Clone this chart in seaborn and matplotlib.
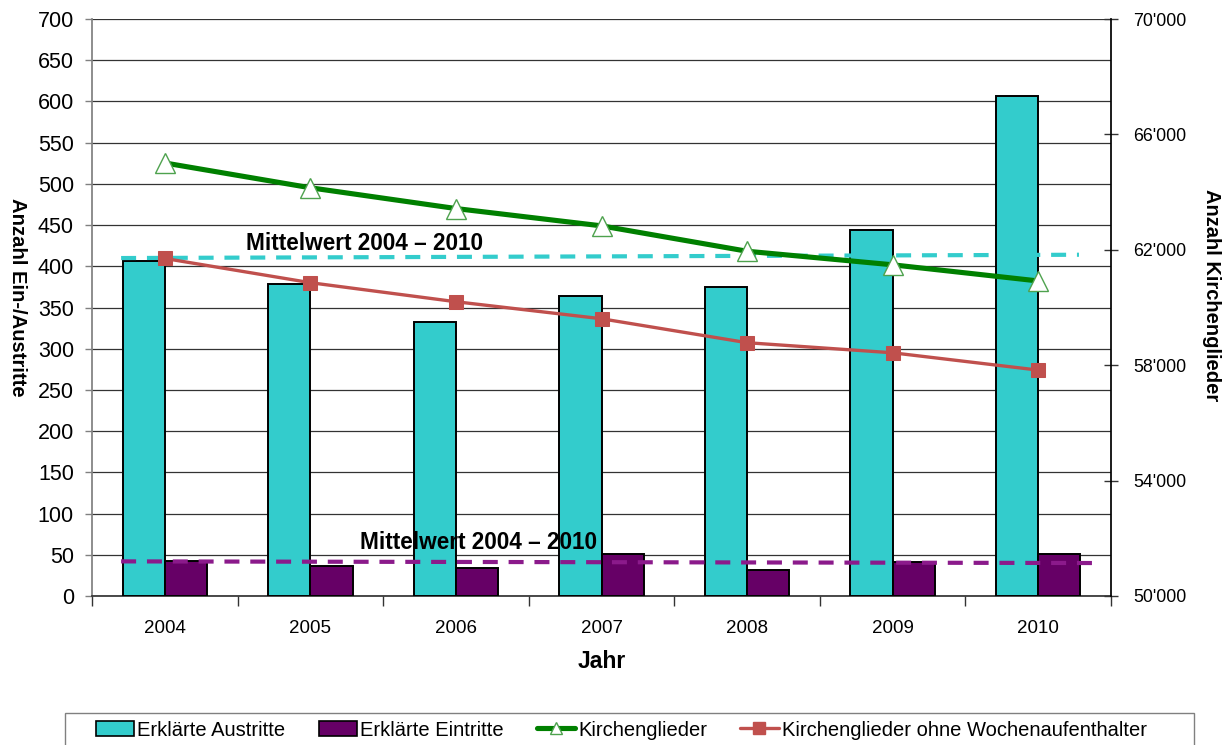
import numpy as np
import pandas as pd
import seaborn as sns
import matplotlib
matplotlib.use('Agg')
import matplotlib.pyplot as plt
from matplotlib.ticker import FuncFormatter, FixedLocator
from matplotlib.patches import Patch, Rectangle
from matplotlib.lines import Line2D

# ---------------- data ----------------
jahre = ['2004', '2005', '2006', '2007', '2008', '2009', '2010']
austritte = [407, 378, 333, 364, 375, 444, 607]
eintritte = [43, 37, 34, 51, 31, 41, 51]
kirchenglieder = [65010, 64150, 63430, 62830, 61950, 61480, 60920]
kirchenglieder_ohne = [61700, 60860, 60200, 59610, 58780, 58430, 57830]
mittel_austritte = [410, 414]     # start / end of the mean line
mittel_eintritte = [42, 40]
serien = ['Erklärte Austritte', 'Erklärte Eintritte']
linien = ['Kirchenglieder', 'Kirchenglieder ohne Wochenaufenthalter']
mittel_text = 'Mittelwert 2004 – 2010'

farben_balken = ['#33CCCC', '#660066']
farbe_gruen = '#008000'
farbe_rot = '#C0504D'
farbe_mittel_cyan = '#33CCCC'
farbe_mittel_lila = '#8B1A8B'

sns.set_theme(style='white')
plt.rcParams['font.family'] = ['Liberation Sans', 'DejaVu Sans']
plt.rcParams.update({'text.color': 'black', 'axes.labelcolor': 'black',
                     'xtick.color': 'black', 'ytick.color': 'black'})

df = pd.DataFrame({
    'Jahr': jahre * 2,
    'Anzahl': austritte + eintritte,
    'Serie': [serien[0]] * len(jahre) + [serien[1]] * len(jahre),
})

W, H = 1232, 745
fig = plt.figure(figsize=(W / 100, H / 100), dpi=100)
ax = fig.add_axes([92 / W, (H - 596) / H, (1111 - 92) / W, (596 - 19) / H])

sns.barplot(data=df, x='Jahr', y='Anzahl', hue='Serie', palette=farben_balken,
            width=0.58, gap=0, edgecolor='black', linewidth=1.4, saturation=1,
            ax=ax, legend=False, zorder=3)

n = len(jahre)
ax.set_xlim(-0.5, n - 0.5)
ax.set_ylim(0, 700)
ax.yaxis.set_major_locator(FixedLocator(np.arange(0, 701, 50)))
ax.grid(axis='y', color='#333333', linewidth=0.9, zorder=0)
ax.grid(axis='x', visible=False)
ax.set_axisbelow(True)

# mean lines
ax.plot([-0.3, n - 0.72], mittel_austritte, color=farbe_mittel_cyan, lw=3,
        ls=(0, (3.6, 2.6)), zorder=4)
ax.plot([-0.3, n - 0.62], mittel_eintritte, color=farbe_mittel_lila, lw=3,
        ls=(0, (3.6, 2.6)), zorder=4)
ax.text(0.56, 428, mittel_text, fontsize=16.3, fontweight='bold', va='center',
        ha='left', zorder=5)
ax.text(1.34, 65.5, mittel_text, fontsize=16.3, fontweight='bold', va='center',
        ha='left', zorder=5)

# x axis ticks: labels at centers, tick marks at boundaries
ax.tick_params(axis='x', which='major', length=0, pad=17, labelsize=13.5)
ax.set_xticks(np.arange(-0.5, n, 1.0), minor=True)
ax.tick_params(axis='x', which='minor', direction='out', length=7, width=1,
               color='#333333', bottom=True)
ax.tick_params(axis='y', direction='out', length=5, width=1, color='#808080',
               pad=8, labelsize=15.5, left=True, labelcolor='black')
ax.set_xlabel('Jahr', fontsize=16.5, fontweight='bold', labelpad=10)
ax.set_ylabel('Anzahl Ein-/Austritte', fontsize=14.6, fontweight='bold',
              rotation=270, va='center')
ax.yaxis.set_label_coords(-0.0736, 0.518)

for s in ['top', 'right']:
    ax.spines[s].set_visible(False)
ax.spines['left'].set_color('#808080')
ax.spines['bottom'].set_color('#333333')

# secondary axis
ax2 = ax.twinx()
pos = np.arange(n)
sns.lineplot(x=pos, y=kirchenglieder, ax=ax2, color=farbe_gruen, lw=3.7,
             marker='^', markersize=14, markerfacecolor='white',
             markeredgecolor='#4EA24E', markeredgewidth=1.0, zorder=6)
sns.lineplot(x=pos, y=kirchenglieder_ohne, ax=ax2, color=farbe_rot, lw=2.4,
             marker='s', markersize=9.5, markerfacecolor=farbe_rot,
             markeredgecolor=farbe_rot, zorder=6)
ax2.set_ylim(50000, 70000)
ax2.yaxis.set_major_locator(FixedLocator(np.arange(50000, 70001, 4000)))
ax2.yaxis.set_major_formatter(FuncFormatter(lambda v, p: f"{v:,.0f}".replace(',', "'")))
ax2.grid(False)
ax2.tick_params(axis='y', direction='inout', length=10, width=1, color='#333333',
                pad=11, labelsize=12.8, right=True)
ax2.set_ylabel('Anzahl Kirchenglieder', fontsize=14.5, fontweight='bold',
               rotation=270, va='center')
ax2.yaxis.set_label_coords(1.099, 0.522)
for s in ['top', 'left', 'bottom']:
    ax2.spines[s].set_visible(False)
ax2.spines['right'].set_color('black')
ax2.set_xlim(-0.5, n - 0.5)

# legend (frameless) + separate box
handles = [
    Patch(facecolor=farben_balken[0], edgecolor='black', linewidth=1.2),
    Patch(facecolor=farben_balken[1], edgecolor='black', linewidth=1.2),
    Line2D([], [], color=farbe_gruen, lw=3.7, marker='^', markersize=9,
           markerfacecolor='white', markeredgecolor='#4EA24E', markeredgewidth=1.0),
    Line2D([], [], color=farbe_rot, lw=2.4, marker='s', markersize=8,
           markerfacecolor=farbe_rot, markeredgecolor=farbe_rot),
]
leg = fig.legend(handles, serien + linien, loc='center left',
                 bbox_to_anchor=(96 / W, 1 - 730 / H), ncol=4, frameon=False,
                 fontsize=14.5, handlelength=1.9, handleheight=0.8,
                 handletextpad=0.15, columnspacing=1.65, borderpad=0,
                 borderaxespad=0)
fig.add_artist(Rectangle((65 / W, -0.05), (1194 - 65) / W, 0.05 + (H - 712.7) / H,
                         transform=fig.transFigure, fill=False,
                         edgecolor='#808080', linewidth=1.0))

fig.savefig('out.png', dpi=100)
